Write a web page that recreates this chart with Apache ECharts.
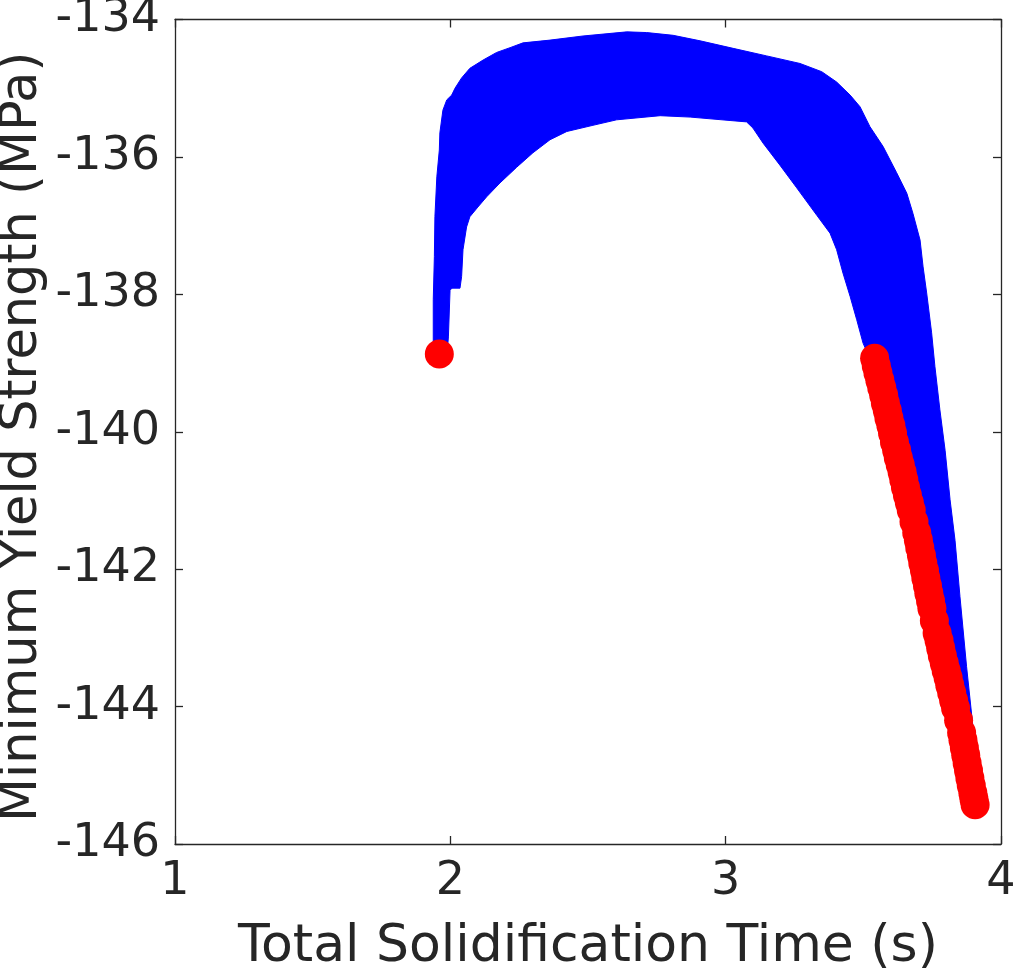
<!DOCTYPE html>
<html>
<head>
<meta charset="utf-8">
<script src="https://cdn.jsdelivr.net/npm/echarts@6/dist/echarts.min.js"></script>
<style>
  html, body { margin: 0; padding: 0; background: #fff; }
  #chart { width: 1014px; height: 969px; }
</style>
</head>
<body>
<div id="chart"></div>
<script>
// outline of the blue band (outer edge then inner edge back)
var bandX = [1.938, 1.938, 1.942, 1.944, 1.951, 1.960, 1.962, 1.973, 1.987, 2.005, 2.017, 2.041,
    2.071, 2.119, 2.168, 2.217, 2.264, 2.362, 2.482, 2.641, 2.713, 2.809, 2.907, 3.027, 3.149,
    3.270, 3.349, 3.403, 3.452, 3.488, 3.524, 3.572, 3.621, 3.658, 3.680, 3.706, 3.717, 3.730,
    3.748, 3.760, 3.778, 3.797, 3.815, 3.833, 3.851, 3.875, 3.898, 3.909,
    3.887, 3.844, 3.760, 3.680, 3.608, 3.550, 3.510, 3.499, 3.476, 3.452, 3.426, 3.403, 3.379,
    3.331, 3.258, 3.197, 3.136, 3.099, 3.076, 3.016, 2.871, 2.762, 2.604, 2.518, 2.423, 2.362,
    2.300, 2.241, 2.180, 2.132, 2.100, 2.071, 2.059, 2.046, 2.041, 2.035, 2.006, 1.999, 1.993, 1.988];
var bandY = [-138.87, -138.08, -137.45, -136.87, -136.29, -135.90, -135.65, -135.32, -135.17, -135.10,
    -135.00, -134.85, -134.71, -134.59, -134.48, -134.41, -134.34, -134.30, -134.24, -134.18,
    -134.19, -134.23, -134.31, -134.42, -134.53, -134.64, -134.76, -134.91, -135.10, -135.27,
    -135.56, -135.85, -136.23, -136.53, -136.82, -137.21, -137.60, -137.98, -138.56, -139.05,
    -139.68, -140.27, -140.99, -141.58, -142.40, -143.42, -144.29, -145.21,
    -145.21, -144.34, -142.89, -141.43, -140.27, -139.25, -138.81, -138.71, -138.37, -138.03,
    -137.69, -137.35, -137.11, -136.85, -136.45, -136.12, -135.80, -135.58, -135.49, -135.47,
    -135.42, -135.40, -135.46, -135.54, -135.63, -135.75, -135.94, -136.15, -136.38, -136.58,
    -136.73, -136.87, -137.02, -137.35, -137.74, -137.91, -137.91, -137.94, -138.62, -138.87];

// red markers
var redX = [1.960, 3.541, 3.547, 3.553, 3.560, 3.567, 3.574, 3.580, 3.587, 3.593, 3.600, 3.606,
    3.613, 3.621, 3.627, 3.634, 3.641, 3.647, 3.653, 3.660, 3.667, 3.674, 3.684, 3.694, 3.700,
    3.705, 3.711, 3.716, 3.722, 3.727, 3.733, 3.738, 3.744, 3.749, 3.758, 3.768, 3.775, 3.781,
    3.787, 3.794, 3.801, 3.808, 3.814, 3.821, 3.828, 3.835, 3.846, 3.857, 3.862, 3.867, 3.872,
    3.877, 3.882, 3.887, 3.892, 3.898, 3.902, 3.906];
var redY = [-138.87, -138.93, -139.04, -139.14, -139.25, -139.36, -139.47, -139.58, -139.69, -139.80,
    -139.91, -140.02, -140.15, -140.27, -140.38, -140.48, -140.59, -140.70, -140.81, -140.92,
    -141.03, -141.14, -141.31, -141.47, -141.58, -141.69, -141.80, -141.91, -142.02, -142.13,
    -142.24, -142.35, -142.46, -142.57, -142.75, -142.93, -143.04, -143.15, -143.26, -143.37,
    -143.48, -143.58, -143.69, -143.80, -143.91, -144.02, -144.20, -144.38, -144.49, -144.60,
    -144.71, -144.82, -144.93, -145.04, -145.15, -145.26, -145.35, -145.43];

var xTicks = [1, 2, 3, 4];
var yTicks = [-146, -144, -142, -140, -138, -136, -134];

var textColor = '#262626';
var fontFam = 'DejaVu Sans';
var tickFont = 46;
var nameFont = 52;

var bandData = [];
for (var i = 0; i < bandX.length; i++) {
    bandData.push([bandX[i], bandY[i]]);
}
var redData = [];
for (var j = 0; j < redX.length; j++) {
    redData.push([redX[j], redY[j]]);
}

var chart = echarts.init(document.getElementById('chart'));

var axisCommon = {
    type: 'value',
    axisLine: { show: true, onZero: false, lineStyle: { color: textColor, width: 1.3 } },
    axisTick: { show: true, inside: true, length: 8, lineStyle: { color: textColor, width: 1.3 } },
    splitLine: { show: false }
};

var option = {
    backgroundColor: '#fff',
    animation: false,
    grid: { left: 175, right: 13, top: 19.5, bottom: 125, containLabel: false, outerBoundsMode: 'none' },
    xAxis: [
        echarts.util.merge({
            min: xTicks[0], max: xTicks[xTicks.length - 1], interval: 1,
            position: 'bottom',
            name: 'Total Solidification Time (s)',
            nameLocation: 'middle',
            nameGap: 77,
            nameMoveOverlap: false,
            nameTextStyle: { fontSize: nameFont, color: textColor, fontFamily: fontFam },
            axisLabel: { fontSize: tickFont, color: textColor, fontFamily: fontFam, margin: 15 }
        }, axisCommon, true),
        echarts.util.merge({
            min: xTicks[0], max: xTicks[xTicks.length - 1], interval: 1,
            position: 'top',
            axisLabel: { show: false }
        }, axisCommon, true)
    ],
    yAxis: [
        echarts.util.merge({
            min: yTicks[0], max: yTicks[yTicks.length - 1], interval: 2,
            position: 'left',
            name: 'Minimum Yield Strength (MPa)',
            nameLocation: 'middle',
            nameGap: 127,
            nameMoveOverlap: false,
            nameTextStyle: { fontSize: 51, color: textColor, fontFamily: fontFam, padding: [0, 10, 0, 0] },
            axisLabel: { fontSize: tickFont, color: textColor, fontFamily: fontFam, margin: 15 }
        }, axisCommon, true),
        echarts.util.merge({
            min: yTicks[0], max: yTicks[yTicks.length - 1], interval: 2,
            position: 'right',
            axisLabel: { show: false }
        }, axisCommon, true)
    ],
    series: [
        {
            type: 'custom',
            xAxisIndex: 0,
            yAxisIndex: 0,
            data: [0],
            renderItem: function (params, api) {
                var pts = [];
                for (var k = 0; k < bandData.length; k++) {
                    pts.push(api.coord(bandData[k]));
                }
                return {
                    type: 'polygon',
                    shape: { points: pts },
                    style: { fill: '#0000ff', stroke: '#0000ff', lineWidth: 1 }
                };
            },
            z: 2
        },
        {
            type: 'scatter',
            xAxisIndex: 0,
            yAxisIndex: 0,
            symbol: 'circle',
            symbolSize: 29,
            itemStyle: { color: '#ff0000', opacity: 1 },
            data: redData,
            z: 3
        }
    ]
};

chart.setOption(option);
</script>
</body>
</html>
